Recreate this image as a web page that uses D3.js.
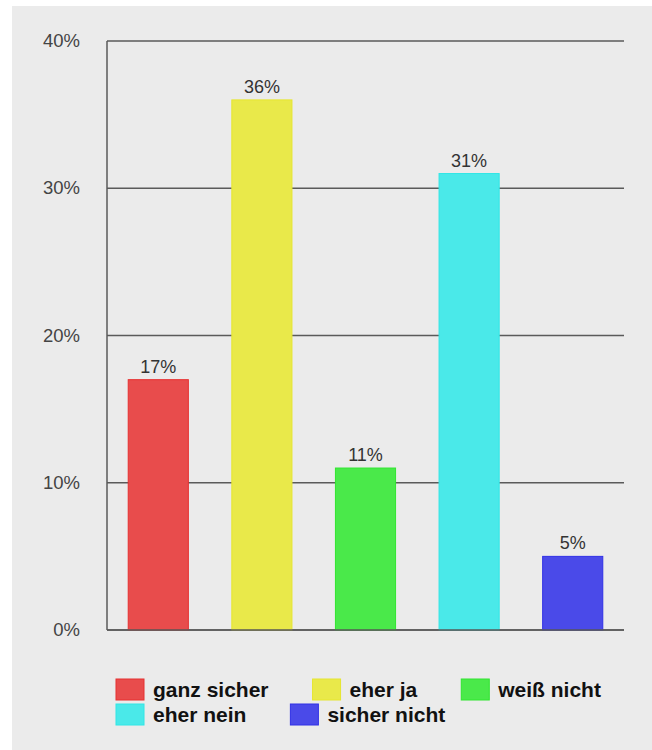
<!DOCTYPE html>
<html><head><meta charset="utf-8">
<script src="https://cdn.jsdelivr.net/npm/d3@7"></script>
<style>html,body{margin:0;padding:0;background:#fff;}svg{display:block;}</style>
</head><body>
<svg id="c" width="652" height="750"></svg>
<script>
const categories = ["ganz sicher", "eher ja", "weiß nicht", "eher nein", "sicher nicht"];
const values = [17, 36, 11, 31, 5];
const valueLabels = ["17%", "36%", "11%", "31%", "5%"];
const colors = ["#e84c4c", "#e9e94a", "#4ae94a", "#4ae9e9", "#4a4ae9"];
const strokes = ["#e63030", "#e6e630", "#30e630", "#30e6e6", "#3030e6"];
const yTicks = [0, 10, 20, 30, 40];
const yTickLabels = ["0%", "10%", "20%", "30%", "40%"];

(function () {
const svg = d3.select("#c");
svg.append("rect").attr("x", 12).attr("y", 6).attr("width", 640).attr("height", 744).attr("fill", "#ebebeb");

const pLeft = 107, pRight = 624, pTop = 41, pBottom = 630;
const x = d3.scaleBand().domain(categories).range([pLeft, pRight]).paddingInner(0.41).paddingOuter(0.2);
const y = d3.scaleLinear().domain([0, 40]).range([pBottom, pTop]);

svg.append("g").selectAll("line").data(yTicks).join("line")
  .attr("x1", pLeft).attr("x2", pRight)
  .attr("y1", d => y(d)).attr("y2", d => y(d))
  .attr("stroke", "#5a5a5a").attr("stroke-width", 1.5);
svg.append("line").attr("x1", pLeft).attr("x2", pLeft).attr("y1", y(40)).attr("y2", y(0))
  .attr("stroke", "#5a5a5a").attr("stroke-width", 1.5);

svg.append("g").selectAll("text").data(yTicks).join("text")
  .attr("x", 80).attr("y", d => y(d) + 6)
  .attr("text-anchor", "end")
  .attr("font-family", "Liberation Sans, Arial, sans-serif")
  .attr("font-size", 18.5).attr("fill", "#444")
  .text((d, i) => yTickLabels[i]);

svg.append("g").selectAll("rect").data(values).join("rect")
  .attr("x", (d, i) => x(categories[i]) + 0.5)
  .attr("width", x.bandwidth() - 1)
  .attr("y", d => y(d))
  .attr("height", d => y(0) - y(d))
  .attr("fill", (d, i) => colors[i])
  .attr("stroke", (d, i) => strokes[i]).attr("stroke-width", 1);

svg.append("line").attr("x1", pLeft).attr("x2", pRight).attr("y1", y(0)).attr("y2", y(0))
  .attr("stroke", "#5a5a5a").attr("stroke-width", 1.5);

svg.append("g").selectAll("text").data(values).join("text")
  .attr("x", (d, i) => x(categories[i]) + x.bandwidth() / 2)
  .attr("y", d => y(d) - 7)
  .attr("text-anchor", "middle")
  .attr("font-family", "Liberation Sans, Arial, sans-serif")
  .attr("font-size", 18).attr("fill", "#333")
  .text((d, i) => valueLabels[i]);

const lg = svg.append("g");
let lx = 116, ly = 679;
const maxX = 630, rowH = 25, sw = 28, sh = 21, gap = 44;
categories.forEach((c, i) => {
  const g = lg.append("g");
  g.append("rect").attr("x", 0).attr("y", 0).attr("width", sw).attr("height", sh)
    .attr("fill", colors[i]).attr("stroke", strokes[i]).attr("stroke-width", 1);
  const t = g.append("text").attr("x", sw + 9).attr("y", 18)
    .attr("font-family", "Liberation Sans, Arial, sans-serif")
    .attr("font-size", 21).attr("font-weight", "bold").attr("fill", "#111")
    .text(c);
  const w = sw + 9 + t.node().getComputedTextLength();
  if (lx + w > maxX) { lx = 116; ly += rowH; }
  g.attr("transform", `translate(${lx},${ly})`);
  lx += w + gap;
});
})();
</script>
</body></html>
